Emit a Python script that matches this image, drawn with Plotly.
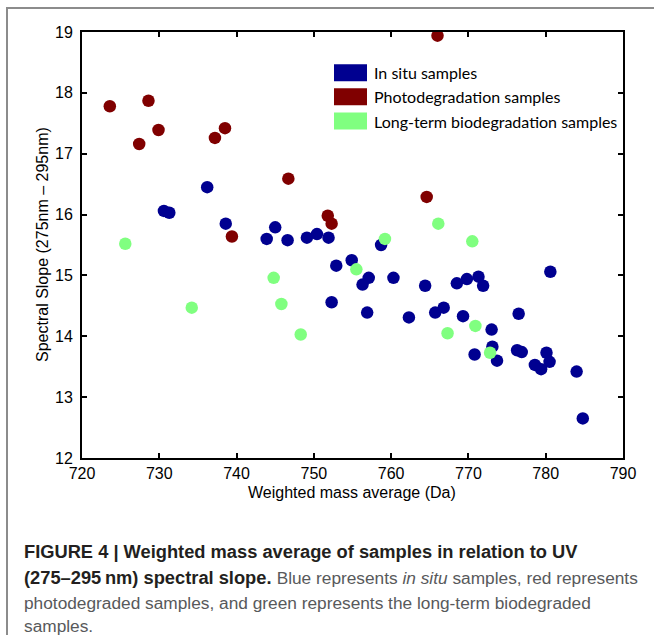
import plotly.graph_objects as go

# ---- data ----
series_names = ["In situ samples", "Photodegradation samples", "Long-term biodegradation samples"]
series_colors = ["#000090", "#800000", "#80FF80"]

insitu_x = [730.6, 731.3, 736.2, 738.6, 743.9, 745.0, 746.6, 749.1, 750.4, 751.9,
            752.9, 752.3, 754.9, 757.1, 756.3, 756.9, 758.7, 760.3, 762.3, 764.4,
            765.7, 766.8, 768.5, 769.8, 771.3, 771.9, 769.3, 773.0, 773.1, 770.8,
            773.7, 776.5, 776.3, 776.9, 780.6, 780.1, 778.6, 779.4, 780.5, 784.0, 784.8]
insitu_y = [16.06, 16.03, 16.45, 15.85, 15.60, 15.79, 15.58, 15.62, 15.68, 15.62,
            15.16, 14.56, 15.25, 14.96, 14.85, 14.39, 15.50, 14.96, 14.31, 14.83,
            14.39, 14.47, 14.87, 14.94, 14.98, 14.83, 14.33, 14.11, 13.83, 13.70,
            13.60, 14.37, 13.77, 13.74, 15.06, 13.73, 13.53, 13.46, 13.58, 13.42, 12.65]

photo_x = [723.6, 728.6, 727.4, 729.9, 737.2, 738.5, 739.4, 766.0, 746.7, 764.6, 751.8, 752.3]
photo_y = [17.78, 17.87, 17.16, 17.39, 17.26, 17.42, 15.64, 18.94, 16.59, 16.29, 15.98, 15.85]

bio_x = [725.6, 734.2, 744.8, 745.8, 748.3, 755.5, 759.2, 766.1, 767.3, 770.5, 770.9, 772.8]
bio_y = [15.52, 14.47, 14.96, 14.53, 14.03, 15.10, 15.60, 15.85, 14.05, 15.56, 14.17, 13.73]

x_ticks = [720, 730, 740, 750, 760, 770, 780, 790]
y_ticks = [12, 13, 14, 15, 16, 17, 18, 19]

x_title = "Weighted mass average (Da)"
y_title = "Spectral Slope (275nm \u2013 295nm)"

REG = "<span style='color:#58595b;font-size:17.3px'>"
caption_lines = [
    "<b>FIGURE 4 | Weighted mass average of samples in relation to UV</b>",
    "<b>(275\u2013295\u2009nm) spectral slope.</b> " + REG + "Blue represents <i>in situ</i> samples, red represents</span>",
    REG + "photodegraded samples, and green represents the long-term biodegraded</span>",
    REG + "samples.</span>",
]

# ---- figure ----
W, H = 654, 635
L, R, T, B = 82, 31, 32, 177
pw, ph = W - L - R, H - T - B

def px(xp):
    return (xp - L) / pw

def py(yp):
    return (H - B - yp) / ph

fig = go.Figure()
all_x = [insitu_x, photo_x, bio_x]
all_y = [insitu_y, photo_y, bio_y]
for name, col, xs, ys in zip(series_names, series_colors, all_x, all_y):
    fig.add_trace(go.Scatter(x=xs, y=ys, mode="markers", name=name,
                             marker=dict(size=12.5, color=col, line=dict(width=0)),
                             showlegend=False))

tick_font = dict(family="Liberation Sans, Arial, sans-serif", size=16, color="black")
axis_common = dict(showline=True, linecolor="black", linewidth=2, mirror="ticks",
                   ticks="inside", ticklen=5, tickwidth=2, tickcolor="black",
                   showgrid=False, zeroline=False, tickfont=tick_font)

fig.update_xaxes(range=[720, 790], tickvals=x_ticks, ticktext=[str(v) for v in x_ticks],
                 ticklabelstandoff=0, **axis_common)
fig.update_yaxes(range=[12, 19], tickvals=y_ticks, ticktext=[str(v) for v in y_ticks],
                 ticklabelstandoff=4, **axis_common)

annotations = []
shapes = []
# axis titles
annotations.append(dict(text=x_title, xref="paper", yref="paper", x=px(352), y=py(492),
                        xanchor="center", yanchor="middle", showarrow=False,
                        font=dict(family="Liberation Sans, Arial, sans-serif", size=16, color="black")))
annotations.append(dict(text=y_title, xref="paper", yref="paper", x=px(42), y=py(245),
                        xanchor="center", yanchor="middle", showarrow=False, textangle=-90,
                        font=dict(family="Liberation Sans, Arial, sans-serif", size=16, color="black")))

# custom legend (boxes + labels)
leg_centers = [72.7, 96.7, 121]
for name, col, cy in zip(series_names, series_colors, leg_centers):
    shapes.append(dict(type="rect", xref="paper", yref="paper",
                       x0=px(334), x1=px(367), y0=py(cy + 8.5), y1=py(cy - 8.5),
                       fillcolor=col, line=dict(width=0)))
    annotations.append(dict(text=name, xref="paper", yref="paper", x=px(372), y=py(cy),
                            xanchor="left", yanchor="middle", showarrow=False,
                            font=dict(family="Lato, Open Sans, sans-serif", size=16, color="black")))

# caption
cap_y = [551, 577, 603, 626]
for txt, cy in zip(caption_lines, cap_y):
    annotations.append(dict(text=txt, xref="paper", yref="paper", x=px(22), y=py(cy),
                            xanchor="left", yanchor="middle", showarrow=False, align="left",
                            font=dict(family="Liberation Sans Narrow, Arial Narrow, sans-serif",
                                      size=18.3, color="#231f20")))

# figure frame (gray lines, left and top)
shapes.append(dict(type="line", xref="paper", yref="paper", x0=px(7), x1=px(7),
                   y0=py(8), y1=py(H + 5), line=dict(color="#8c8c8c", width=2)))
shapes.append(dict(type="line", xref="paper", yref="paper", x0=px(6), x1=px(W + 5),
                   y0=py(8), y1=py(8), line=dict(color="#8c8c8c", width=2)))

fig.update_layout(width=W, height=H, margin=dict(l=L, r=R, t=T, b=B, autoexpand=False),
                  paper_bgcolor="white", plot_bgcolor="white",
                  annotations=annotations, shapes=shapes, showlegend=False)

fig.write_html("out.html", config={"displayModeBar": False},
               post_script="document.body.style.margin='0px';document.body.style.overflow='hidden';")
